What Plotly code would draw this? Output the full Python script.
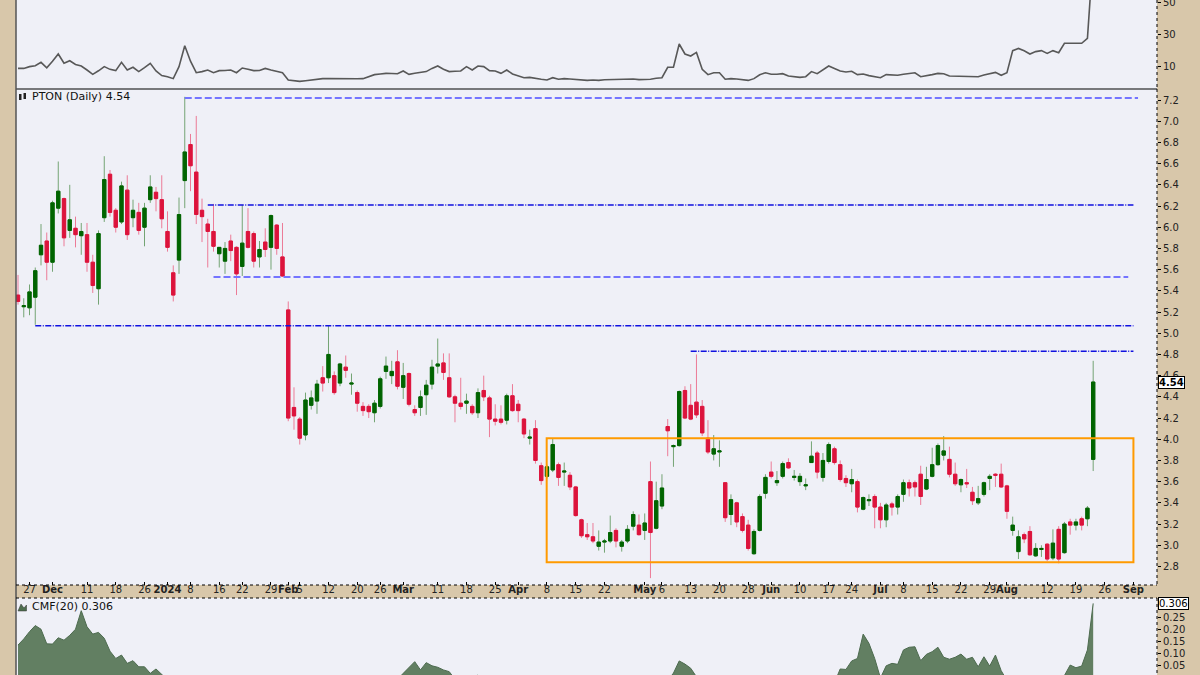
import pandas as pd
import plotly.graph_objects as go

# ---------------- DATA ----------------
holidays = ["2023-11-23", "2023-12-25", "2024-01-01", "2024-01-15", "2024-02-19",
            "2024-03-29", "2024-05-27", "2024-06-19", "2024-07-04", "2024-09-02"]
calendar = [d for d in pd.bdate_range("2023-11-22", "2024-09-13")
            if d.strftime("%Y-%m-%d") not in holidays]
pos = {d.strftime("%Y-%m-%d"): i for i, d in enumerate(calendar)}

opens = [5.36,5.25,5.24,5.34,5.74,5.87,5.67,6.18,6.27,5.97,
         5.99,5.92,5.93,5.67,5.42,6.09,6.50,6.16,6.05,6.35,
         6.09,6.14,6.00,6.26,6.33,6.26,5.96,5.57,5.69,6.44,
         6.78,6.52,6.16,6.03,5.96,5.75,5.68,5.87,5.81,5.63,
         5.96,5.94,5.72,5.86,5.81,6.02,5.72,5.22,4.30,4.19,
         4.04,4.32,4.36,4.58,4.58,4.60,4.53,4.68,4.52,4.44,
         4.31,4.31,4.25,4.31,4.64,4.60,4.73,4.49,4.62,4.28,
         4.30,4.42,4.52,4.69,4.72,4.58,4.40,4.34,4.34,4.31,
         4.25,4.46,4.39,4.19,4.19,4.18,4.41,4.33,4.19,4.01,
         4.10,3.75,3.65,3.71,3.76,3.69,3.66,3.55,3.24,3.10,
         3.08,2.99,3.03,3.04,3.14,2.99,3.04,3.18,3.19,3.14,
         3.60,3.16,3.37,4.12,3.93,3.94,4.46,4.32,4.35,4.31,
         4.01,3.86,3.88,3.59,3.29,3.40,3.27,3.19,2.92,3.14,
         3.49,3.69,3.59,3.65,3.78,3.64,3.60,3.56,3.78,3.87,
         3.64,3.79,3.91,3.76,3.63,3.58,3.60,3.34,3.42,3.46,
         3.36,3.24,3.39,3.36,3.48,3.59,3.59,3.67,3.53,3.65,
         3.76,3.85,3.81,3.67,3.57,3.59,3.50,3.40,3.48,3.63,
         3.67,3.67,3.56,3.14,2.94,3.10,3.13,2.90,2.96,3.01,
         2.88,3.15,2.93,3.22,3.19,3.25,3.25,3.81]
highs = [5.55,5.33,5.46,5.62,6.03,5.95,6.25,6.62,6.28,6.40,
         6.10,6.04,6.04,5.74,5.97,6.67,6.54,6.18,6.43,6.49,
         6.26,6.23,6.23,6.49,6.38,6.49,6.15,5.64,6.28,7.23,
         6.88,7.05,6.27,6.08,6.22,5.81,5.86,5.93,5.82,6.21,
         6.18,5.96,5.87,5.99,6.12,6.03,6.04,5.30,4.49,4.21,
         4.44,4.46,4.56,4.69,5.07,4.64,4.72,4.79,4.62,4.46,
         4.35,4.33,4.37,4.59,4.78,4.74,4.84,4.72,4.63,4.32,
         4.46,4.56,4.75,4.95,4.81,4.81,4.42,4.58,4.43,4.33,
         4.48,4.60,4.41,4.33,4.32,4.43,4.52,4.37,4.20,4.09,
         4.18,3.78,3.76,4.01,3.78,3.78,3.69,3.56,3.25,3.21,
         3.21,3.14,3.06,3.28,3.16,3.05,3.19,3.32,3.29,3.30,
         3.79,3.60,3.67,4.19,3.95,4.46,4.50,4.52,4.80,4.37,
         4.18,4.04,3.99,3.59,3.48,3.41,3.30,3.24,3.15,3.48,
         3.67,3.79,3.70,3.79,3.82,3.71,3.68,3.63,3.98,3.89,
         3.87,3.97,3.93,3.80,3.66,3.72,3.62,3.46,3.48,3.48,
         3.40,3.40,3.41,3.48,3.62,3.62,3.61,3.75,3.74,3.92,
         3.96,4.03,3.93,3.78,3.63,3.72,3.55,3.56,3.60,3.67,
         3.68,3.77,3.57,3.27,3.14,3.12,3.18,3.02,3.00,3.02,
         3.15,3.18,3.22,3.25,3.25,3.27,3.37,4.74]
lows = [5.27,5.15,5.17,5.08,5.64,5.50,5.58,6.13,5.82,5.90,
        5.81,5.74,5.58,5.38,5.27,6.05,6.10,5.95,6.03,5.88,
        6.00,5.93,5.82,6.23,6.15,5.99,5.77,5.30,5.56,6.18,
        6.34,6.03,5.86,5.62,5.77,5.62,5.56,5.68,5.36,5.54,
        5.80,5.62,5.62,5.72,5.60,5.74,5.53,4.17,4.09,3.95,
        3.99,4.28,4.24,4.45,4.53,4.42,4.50,4.58,4.42,4.26,
        4.22,4.20,4.16,4.29,4.57,4.52,4.47,4.38,4.31,4.22,
        4.22,4.23,4.47,4.62,4.56,4.39,4.16,4.28,4.24,4.23,
        4.20,4.36,4.02,4.13,4.14,4.14,4.26,4.16,4.01,3.95,
        3.77,3.57,3.63,3.69,3.56,3.56,3.52,3.27,3.07,3.05,
        3.02,2.95,2.93,3.02,2.98,2.94,3.02,3.14,3.09,3.05,
        2.69,3.15,3.34,3.84,3.74,3.93,4.19,4.18,4.20,4.03,
        3.86,3.80,3.74,3.22,3.19,3.17,3.12,2.95,2.91,3.13,
        3.44,3.63,3.56,3.63,3.72,3.61,3.56,3.52,3.78,3.63,
        3.60,3.77,3.76,3.60,3.55,3.50,3.31,3.33,3.37,3.16,
        3.16,3.17,3.28,3.29,3.41,3.46,3.46,3.38,3.52,3.64,
        3.75,3.80,3.64,3.56,3.50,3.54,3.38,3.38,3.46,3.52,
        3.55,3.54,3.25,3.09,2.87,3.02,2.90,2.89,2.89,2.85,
        2.86,2.83,2.92,3.10,3.14,3.14,3.18,3.70]
closes = [5.30,5.26,5.39,5.59,5.83,5.67,6.23,6.34,5.90,6.07,
          5.93,5.96,5.67,5.45,5.94,6.45,6.14,6.00,6.39,5.93,
          6.16,5.97,6.18,6.38,6.27,6.08,5.81,5.36,6.12,6.71,
          6.58,6.12,6.10,5.96,5.82,5.81,5.80,5.78,5.56,5.85,
          5.81,5.68,5.79,5.79,6.11,5.80,5.54,4.20,4.22,4.01,
          4.37,4.39,4.52,4.53,4.80,4.44,4.71,4.65,4.53,4.34,
          4.27,4.26,4.34,4.57,4.69,4.64,4.50,4.60,4.33,4.25,
          4.40,4.51,4.68,4.71,4.63,4.40,4.34,4.31,4.36,4.25,
          4.44,4.40,4.19,4.17,4.16,4.41,4.27,4.27,4.05,4.02,
          3.80,3.61,3.74,3.95,3.64,3.70,3.55,3.28,3.09,3.08,
          3.04,3.03,3.04,3.12,3.04,3.03,3.15,3.29,3.10,3.21,
          3.12,3.42,3.54,4.08,3.94,4.45,4.20,4.19,4.23,4.06,
          3.88,3.91,3.89,3.26,3.43,3.22,3.14,2.97,3.13,3.46,
          3.64,3.65,3.61,3.77,3.73,3.65,3.65,3.57,3.84,3.69,
          3.80,3.95,3.78,3.62,3.59,3.62,3.36,3.45,3.43,3.36,
          3.24,3.38,3.36,3.46,3.59,3.54,3.55,3.46,3.62,3.76,
          3.94,3.89,3.67,3.58,3.62,3.58,3.42,3.44,3.59,3.65,
          3.66,3.55,3.32,3.19,3.08,3.06,2.91,2.97,2.97,2.87,
          3.02,2.87,3.20,3.19,3.22,3.19,3.35,4.54]

top_line = [8.5,8.5,9.6,10.2,12.3,8.9,13,17.5,11.7,13.3,
            11,10,7.5,4.8,7,9.6,7.9,7.1,12.3,7.5,
            9.2,6.5,9,11.7,6.9,4,3.3,2.1,9.6,22.7,
            13,5.8,6.5,7.5,5.8,7.1,7.2,7.5,5.8,8.75,
            8,7.1,7.2,8.5,7.5,6.5,5.8,1.25,0.8,0.4,
            0.8,1.25,1.5,2.1,2.1,2.0,2.1,2.2,2.1,2.0,
            2.1,3.3,4.6,5.0,5.4,5.3,5.2,6.9,4.8,5.5,
            6.0,6.5,8.5,10,8,6.5,6.7,6.9,9.6,7.5,
            10,9.6,7.1,6.9,5.4,7.5,5,3.75,2.7,2.9,
            2.1,1.7,1.25,2.7,1.7,2.1,1.9,1.5,1.1,1.0,
            1.25,1.0,1.4,1.5,1.5,1.5,1.5,1.9,1.5,1.6,
            1.7,2.3,2.7,9.2,9.2,23.75,17.5,16.25,18.5,7.9,
            4.6,5.8,5.8,1.7,2.1,1.9,1.5,1.0,2.1,4.5,
            5.8,4.8,4.8,5.2,3.75,3.3,2.9,3.3,6.5,5.2,
            7.5,10,8.5,6.9,6.25,6.7,4.6,5.0,4.0,3.2,
            2.7,4.6,4.4,4.2,4.8,5.3,5.8,3.3,3.75,4.6,
            5.4,5.2,3.75,3.6,3.6,3.5,3.1,3.3,4.4,5.2,
            6.0,4.2,5.8,19.6,21,19.5,17.5,19,19.6,17.9,
            19.6,18.3,24.2,24.2,24.2,24.2,27.3,80]

cmf = [0.135,0.16,0.19,0.215,0.20,0.14,0.139,0.165,0.155,0.175,
       0.20,0.276,0.21,0.18,0.187,0.163,0.11,0.08,0.094,0.06,
       0.071,0.046,0.046,0.019,0.037,0.016,-0.01,-0.03,-0.02,-0.01,
       -0.02,-0.04,-0.05,-0.06,-0.07,-0.07,-0.08,-0.08,-0.09,-0.08,
       -0.09,-0.10,-0.10,-0.10,-0.09,-0.10,-0.11,-0.20,-0.20,-0.19,
       -0.15,-0.14,-0.12,-0.12,-0.10,-0.10,-0.09,-0.09,-0.08,-0.08,
       -0.07,-0.07,-0.05,-0.04,-0.03,-0.02,-0.005,0.019,0.045,0.067,
       0.033,0.063,0.05,0.044,0.033,0.026,-0.005,-0.01,-0.005,0.0,
       0.012,-0.01,-0.02,-0.03,-0.04,-0.04,-0.05,-0.06,-0.08,-0.08,
       -0.10,-0.11,-0.10,-0.09,-0.10,-0.11,-0.12,-0.14,-0.16,-0.17,
       -0.18,-0.17,-0.17,-0.16,-0.16,-0.15,-0.14,-0.12,-0.12,-0.11,
       -0.15,-0.10,-0.06,-0.01,0.02,0.07,0.057,0.04,0.005,-0.02,
       -0.04,-0.05,-0.05,-0.09,-0.10,-0.11,-0.12,-0.14,-0.12,-0.10,
       -0.08,-0.07,-0.07,-0.06,-0.06,-0.06,-0.05,-0.05,-0.03,-0.04,
       -0.03,-0.01,-0.02,0.037,0.035,0.07,0.08,0.18,0.142,0.08,
       0.0,0.05,0.06,0.056,0.115,0.126,0.128,0.071,0.097,0.108,
       0.126,0.085,0.077,0.085,0.098,0.077,0.085,0.046,0.087,0.049,
       0.094,0.03,-0.02,-0.06,-0.09,-0.08,-0.09,-0.08,-0.08,-0.07,
       -0.06,-0.03,0.01,0.053,0.042,0.049,0.115,0.306]

level_prices = [7.22, 6.21, 5.53, 5.07, 4.83]
level_start = ["2024-01-05", "2024-01-11", "2024-01-12", "2023-11-28", "2024-05-13"]
box_top, box_bottom = 4.01, 2.84
box_start, box_end = "2024-04-08", "2024-09-03"

tick_dates = ["2023-11-27","2023-12-01","2023-12-11","2023-12-18","2023-12-26","2024-01-02",
              "2024-01-08","2024-01-16","2024-01-22","2024-01-29","2024-02-01","2024-02-05",
              "2024-02-12","2024-02-20","2024-02-26","2024-03-01","2024-03-11","2024-03-18",
              "2024-03-25","2024-04-01","2024-04-08","2024-04-15","2024-04-22","2024-05-01",
              "2024-05-06","2024-05-13","2024-05-20","2024-05-28","2024-06-03","2024-06-10",
              "2024-06-17","2024-06-24","2024-07-01","2024-07-08","2024-07-15","2024-07-22",
              "2024-07-29","2024-08-01","2024-08-12","2024-08-19","2024-08-26","2024-09-03"]
tick_text = ["27","<b>Dec</b>","11","18","26","<b>2024</b>","8","16","22","29","<b>Feb</b>","5",
             "12","20","26","<b>Mar</b>","11","18","25","<b>Apr</b>","8","15","22","<b>May</b>",
             "6","13","20","28","<b>Jun</b>","10","17","24","<b>Jul</b>","8","15","22",
             "29","<b>Aug</b>","12","19","26","<b>Sep</b>"]
price_ticks = [2.8,3.0,3.2,3.4,3.6,3.8,4.0,4.2,4.4,4.6,4.8,5.0,5.2,5.4,5.6,5.8,6.0,6.2,6.4,6.6,6.8,7.0,7.2]
top_ticks = [10, 30, 50]
cmf_ticks = [0.05, 0.10, 0.15, 0.20, 0.25]

# ---------------- FIGURE ----------------
W, H = 1200, 675
L, R = 16, 1157
TAN = "#d8c7aa"
LAV = "#eff0f7"
FONT = "DejaVu Sans"

def px(xp):
    return (xp - L) / (R - L)

def py(yp):
    return 1 - yp / H

n = len(closes)
x = list(range(n))
dates = [calendar[i].strftime("%Y-%m-%d") for i in x]
xr = [-0.35, 198.1]

body_hi = [max(o, c) for o, c in zip(opens, closes)]
body_lo = [min(o, c) for o, c in zip(opens, closes)]

fig = go.Figure()
fig.add_trace(go.Scatter(x=x, y=top_line, xaxis="x2", yaxis="y2", mode="lines",
                         line=dict(color="#585858", width=1.6), hoverinfo="skip"))
fig.add_trace(go.Candlestick(x=x, open=opens, high=highs, low=lows, close=closes,
                             text=dates, whiskerwidth=0,
                             increasing=dict(line=dict(color="#74a474", width=1), fillcolor="#74a474"),
                             decreasing=dict(line=dict(color="#ec7b97", width=1), fillcolor="#ec7b97")))
fig.add_trace(go.Candlestick(x=x, open=opens, high=body_hi, low=body_lo, close=closes,
                             text=dates, whiskerwidth=0,
                             increasing=dict(line=dict(color="#006400", width=1), fillcolor="#006400"),
                             decreasing=dict(line=dict(color="#dc143c", width=1), fillcolor="#dc143c")))
fig.add_trace(go.Scatter(x=x, y=cmf, xaxis="x3", yaxis="y3", mode="lines", fill="tozeroy",
                         fillcolor="#627f62", line=dict(color="#4d6b4f", width=1), hoverinfo="skip"))

shapes = []
# level lines
light = dict(color="#7474ff", dash="7px,3px", width=2)
dark = dict(color="#1010e0", dash="6px,1.5px,1px,1.5px", width=1.5)
level_styles = [dict(light, end=194.8), dict(dark, end=194.0), dict(light, end=193.1),
                dict(dark, end=194.0), dict(dark, end=194.0)]
for lvl, sd, st in zip(level_prices, level_start, level_styles):
    shapes.append(dict(type="line", xref="x", yref="y", x0=pos[sd], x1=st["end"], y0=lvl, y1=lvl,
                       line=dict(color=st["color"], dash=st["dash"], width=st["width"])))
# orange consolidation box
shapes.append(dict(type="rect", xref="x", yref="y", x0=pos[box_start] - 0.05, x1=pos[box_end],
                   y0=box_bottom, y1=box_top, line=dict(color="#ff9a00", width=2)))

# frame lines
shapes += [
    dict(type="line", xref="paper", yref="paper", x0=px(L), x1=px(R), y0=py(89), y1=py(89),
         line=dict(color="#000000", width=1.2)),
    dict(type="line", xref="paper", yref="paper", x0=px(L), x1=px(L), y0=0, y1=1,
         line=dict(color="#555555", width=1.5)),
    dict(type="line", xref="paper", yref="paper", x0=px(R), x1=px(R), y0=py(89), y1=py(585),
         line=dict(color="#000000", width=1, dash="dot")),
    dict(type="line", xref="paper", yref="paper", x0=px(R), x1=px(R), y0=py(0), y1=py(89),
         line=dict(color="#000000", width=1, dash="dot")),
    dict(type="line", xref="paper", yref="paper", x0=px(R), x1=px(R), y0=py(598), y1=py(675),
         line=dict(color="#000000", width=1, dash="dot")),
    dict(type="line", xref="paper", yref="paper", x0=px(L), x1=px(R), y0=py(585), y1=py(585),
         line=dict(color="#000000", width=1, dash="dot")),
    dict(type="line", xref="paper", yref="paper", x0=px(L), x1=px(R), y0=py(598), y1=py(598),
         line=dict(color="#000000", width=1, dash="dot")),
]
# small legend icons
shapes += [
    dict(type="rect", xref="paper", yref="paper", x0=px(19), x1=px(21.5), y0=py(100), y1=py(94),
         fillcolor="#222", line=dict(width=0)),
    dict(type="rect", xref="paper", yref="paper", x0=px(23.5), x1=px(26), y0=py(99), y1=py(93),
         fillcolor="#222", line=dict(width=0)),
    dict(type="path", xref="paper", yref="paper",
         path="M %f %f L %f %f L %f %f L %f %f L %f %f Z" % (
             px(18), py(611), px(21), py(604), px(24), py(608), px(26.5), py(605), px(26.5), py(611)),
         fillcolor="#4f6f4f", line=dict(color="#333", width=0.5)),
]

annotations = [
    dict(xref="paper", yref="paper", x=px(30), y=py(97), xanchor="left", yanchor="middle",
         text="PTON (Daily) 4.54", showarrow=False, font=dict(family=FONT, size=11, color="#111")),
    dict(xref="paper", yref="paper", x=px(30), y=py(606), xanchor="left", yanchor="middle",
         text="CMF(20) 0.306", showarrow=False, font=dict(family=FONT, size=11, color="#111")),
    dict(xref="paper", yref="y", x=1, y=closes[-1], xanchor="left", yanchor="middle", xshift=1,
         text="<b>%.2f</b>" % closes[-1], showarrow=False, bgcolor="#ffffff", bordercolor="#000000",
         borderwidth=1, borderpad=0, font=dict(family=FONT, size=10, color="#000")),
    dict(xref="paper", yref="y3", x=1, y=cmf[-1], xanchor="left", yanchor="middle", xshift=1,
         text="%.3f" % cmf[-1], showarrow=False, bgcolor="#ffffff", bordercolor="#000000",
         borderwidth=1, borderpad=0, font=dict(family=FONT, size=10, color="#000")),
]

tickfont = dict(family=FONT, size=10, color="#222")
yaxis_common = dict(side="right", showgrid=False, zeroline=False, ticks="outside", ticklen=3,
                    tickcolor="#000", tickfont=tickfont, fixedrange=True,
                    ticklabeloverflow="allow", automargin=False)

fig.update_layout(
    width=W, height=H, margin=dict(l=L, r=W - R, t=0, b=0, autoexpand=False),
    paper_bgcolor=TAN, plot_bgcolor=LAV, showlegend=False, boxgap=0.18,
    xaxis=dict(domain=[0, 1], anchor="y", range=xr, tickvals=[pos[d] for d in tick_dates],
               ticktext=tick_text, tickangle=0, showgrid=False, zeroline=False,
               rangeslider=dict(visible=False), ticks="inside", ticklen=3, tickcolor="#000",
               ticklabelstandoff=-3, ticklabeloverflow="allow", tickfont=tickfont,
               automargin=False),
    xaxis2=dict(domain=[0, 1], anchor="y2", range=xr, visible=False, automargin=False),
    xaxis3=dict(domain=[0, 1], anchor="y3", range=xr, visible=False, automargin=False),
    yaxis=dict(domain=[py(585), py(89)], range=[2.625, 7.304], tickvals=price_ticks,
               ticktext=["%.1f" % t for t in price_ticks], **yaxis_common),
    yaxis2=dict(domain=[py(89), 1], range=[-4.375, 51.25], tickvals=top_ticks,
                ticktext=[str(t) for t in top_ticks], **yaxis_common),
    yaxis3=dict(domain=[0, py(598)], range=[0.0123, 0.328], tickvals=cmf_ticks,
                ticktext=["%.2f" % t for t in cmf_ticks], **yaxis_common),
    shapes=shapes, annotations=annotations,
)

fig.write_html("out.html", config={"displayModeBar": False},
               post_script="document.body.style.margin='0px';document.body.style.overflow='hidden';")
